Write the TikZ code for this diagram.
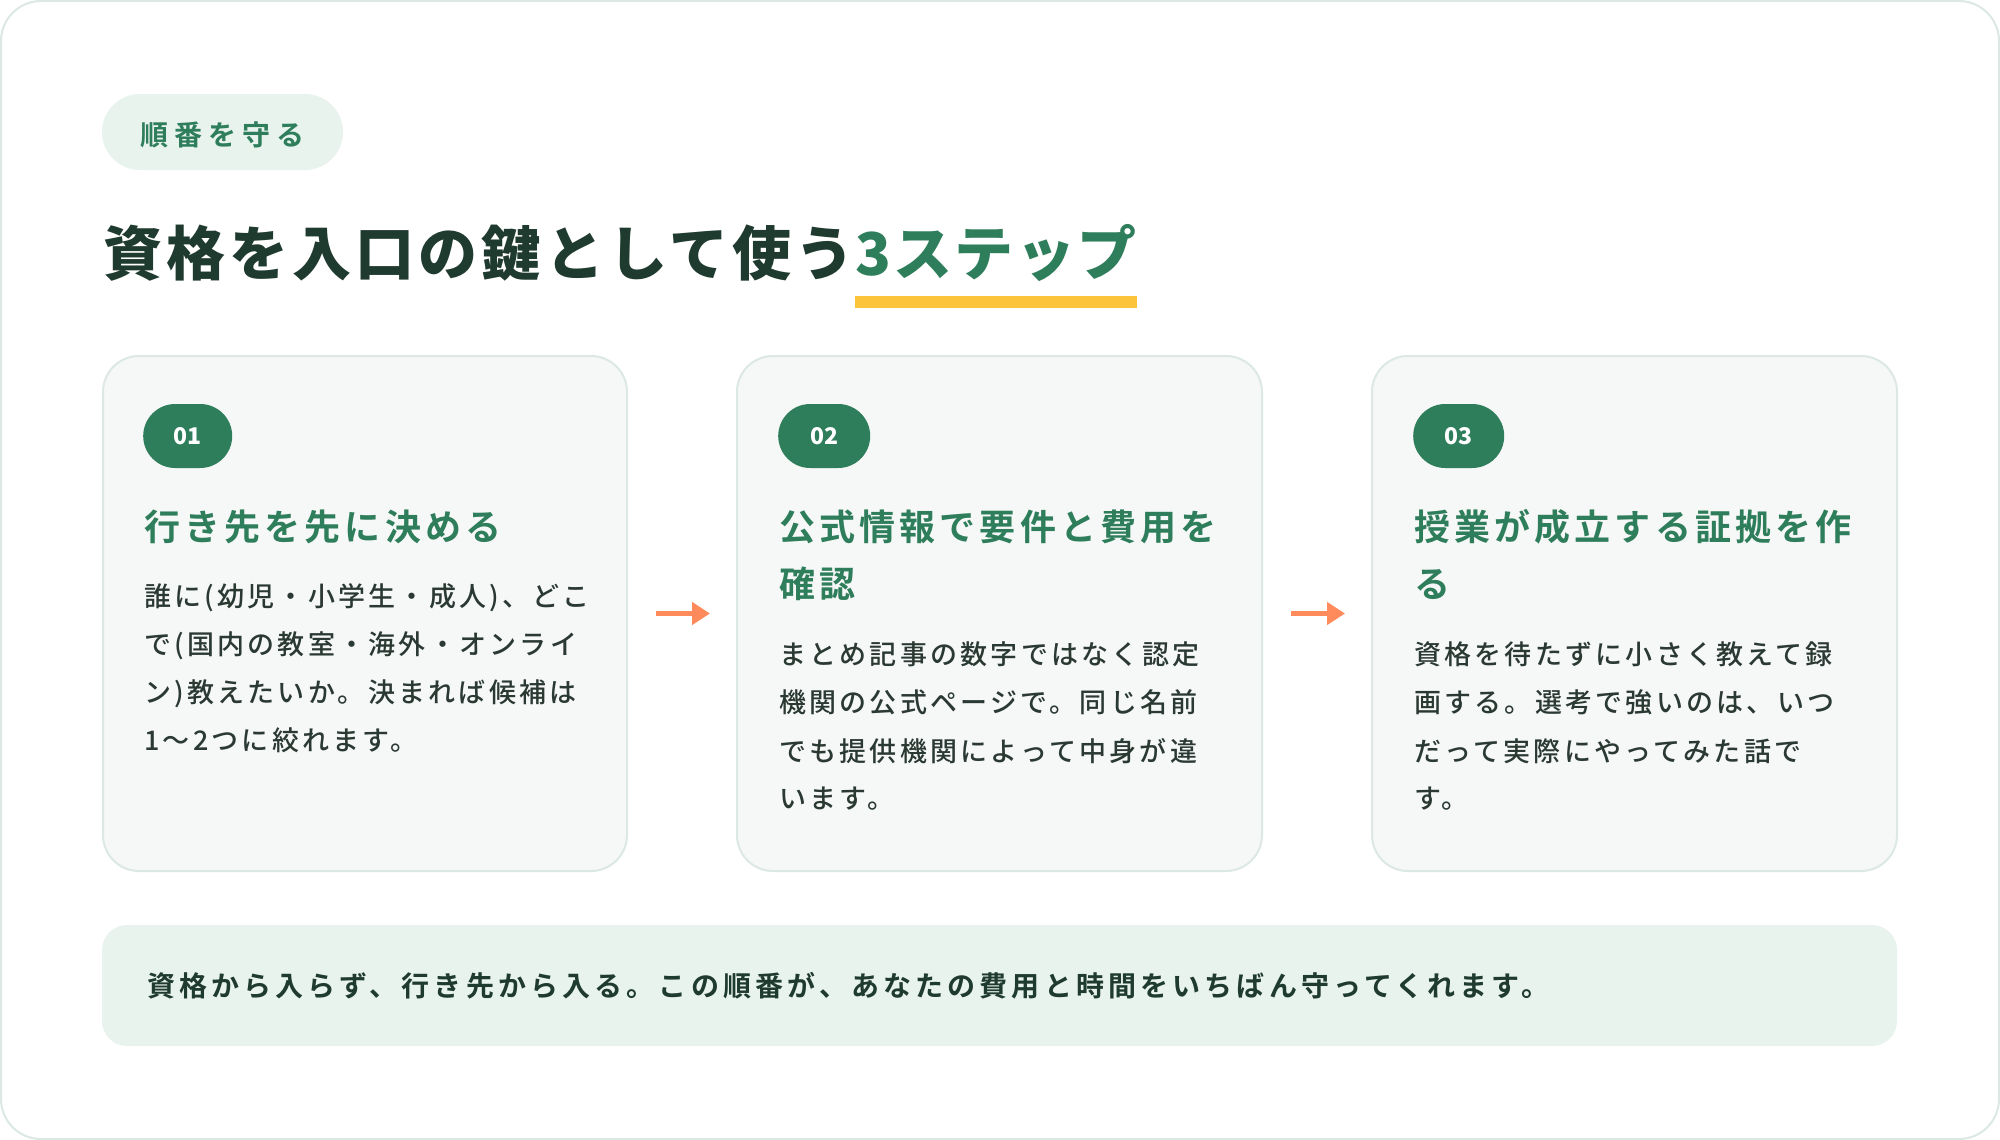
\documentclass[tikz,border=0pt]{standalone}
\usepackage{fontspec}
\usetikzlibrary{arrows.meta}
\setmainfont{Noto Sans CJK JP}[BoldFont={Noto Sans CJK JP Bold}]
\newfontfamily\fTitle{Noto Sans CJK JP Black}[LetterSpace=7]
\newfontfamily\fTitleB{Noto Sans CJK JP Black}[LetterSpace=4]
\newfontfamily\fTag{Noto Sans CJK JP Bold}[LetterSpace=22]
\newfontfamily\fHead{Noto Sans CJK JP Bold}[LetterSpace=11.5]
\newfontfamily\fBody{Noto Sans CJK JP Medium}[LetterSpace=12]
\newfontfamily\fBan{Noto Sans CJK JP Bold}[LetterSpace=14.8]
\newfontfamily\fNum{Noto Sans CJK JP Black}
\definecolor{ink}{HTML}{1F3A2F}
\definecolor{bodyink}{HTML}{2B3933}
\definecolor{brand}{HTML}{2E7D5B}
\definecolor{mint}{HTML}{E8F3EE}
\definecolor{cardfill}{HTML}{F6F8F7}
\definecolor{cardline}{HTML}{DCE8E3}
\definecolor{coral}{HTML}{FF8A5B}
\definecolor{sun}{HTML}{FCC43B}
\tikzset{
  cardbox/.style={draw=cardline, line width=2pt, fill=cardfill, rounded corners=36pt},
  badge/.style={fill=brand, text=white, rounded corners=32pt, minimum height=64pt, minimum width=90pt, inner sep=0pt, anchor=west, font=\fNum\fontsize{23}{24}\selectfont},
  headline/.style={anchor=west, inner sep=0pt, text=brand, text height=31.7pt, text depth=4.3pt, font=\fHead\fontsize{36}{40}\selectfont},
  bodyline/.style={anchor=west, inner sep=0pt, text=bodyink, text height=23.8pt, text depth=3.2pt, font=\fBody\fontsize{27}{30}\selectfont},
  titlepart/.style={anchor=west, inner sep=0pt, text height=51.9pt, text depth=7.1pt, font=\fTitle\fontsize{59}{64}\selectfont},
  flow/.style={draw=coral, line width=5pt, -{Triangle[length=18pt,width=22pt]}, shorten <=29pt, shorten >=27pt}
}
\begin{document}
\begin{tikzpicture}[x=1pt,y=-1pt]
\useasboundingbox (0,0) rectangle (2000,1140);
\draw[draw=cardline, line width=2pt, fill=white, rounded corners=40pt] (1,1) rectangle (1999,1139);
% tag
\node[fill=mint, rounded corners=38pt, minimum width=241pt, minimum height=76pt, inner sep=0pt, text height=28pt, text depth=0.4pt, text=brand, font=\fTag\fontsize{28}{30}\selectfont] (tag) at (222.5,132) {順番を守る};
% title
\node[titlepart, text=ink] (title) at (103,253) {資格を入口の鍵として使う};
\node[titlepart, text=brand, font=\fTitleB\fontsize{59}{64}\selectfont] (titleb) at (title.east) {3ステップ};
\fill[sun] (titleb.west |- 0,296) rectangle (titleb.east |- 0,308);
% cards
\path[cardbox] (103,356) rectangle (627,871);
\path[cardbox] (737,356) rectangle (1262,871);
\path[cardbox] (1372,356) rectangle (1897,871);
\coordinate (c1e) at (627,613.5);
\coordinate (c2w) at (737,613.5);
\coordinate (c2e) at (1262,613.5);
\coordinate (c3w) at (1372,613.5);
\draw[flow] (c1e) -- (c2w);
\draw[flow] (c2e) -- (c3w);
% card 1
\node[badge, minimum width=89pt] (b1) at (143,436) {01};
\node[headline] (h1a) at (144,527) {行き先を先に決める};
\node[bodyline] (t1a) at (144,596) {誰に(幼児・小学生・成人)、どこ};
\node[bodyline] (t1b) at (144,644) {で(国内の教室・海外・オンライ};
\node[bodyline] (t1c) at (144,692.5) {ン)教えたいか。決まれば候補は};
\node[bodyline] (t1d) at (144,740) {1〜2つに絞れます。};
% card 2
\node[badge, minimum width=92pt] (b2) at (778,436) {02};
\node[headline] (h2a) at (779,527) {公式情報で要件と費用を};
\node[headline] (h2b) at (779,584) {確認};
\node[bodyline] (t2a) at (779,654) {まとめ記事の数字ではなく認定};
\node[bodyline] (t2b) at (779,702.5) {機関の公式ページで。同じ名前};
\node[bodyline] (t2c) at (779,751) {でも提供機関によって中身が違};
\node[bodyline] (t2d) at (779,798.5) {います。};
% card 3
\node[badge, minimum width=91pt] (b3) at (1413,436) {03};
\node[headline] (h3a) at (1414,527) {授業が成立する証拠を作};
\node[headline] (h3b) at (1414,584) {る};
\node[bodyline] (t3a) at (1414,654) {資格を待たずに小さく教えて録};
\node[bodyline] (t3b) at (1414,702.5) {画する。選考で強いのは、いつ};
\node[bodyline] (t3c) at (1414,751) {だって実際にやってみた話で};
\node[bodyline] (t3d) at (1414,798.5) {す。};
% banner
\node[fill=mint, rounded corners=25pt, minimum width=1795pt, minimum height=121pt, inner sep=0pt] (banner) at (999.5,985.5) {};
\node[anchor=west, inner sep=0pt, text=ink, text height=24.6pt, text depth=3.4pt, font=\fBan\fontsize{28}{30}\selectfont] (bantext) at (147,986) {資格から入らず、行き先から入る。この順番が、あなたの費用と時間をいちばん守ってくれます。};
\end{tikzpicture}
\end{document}
